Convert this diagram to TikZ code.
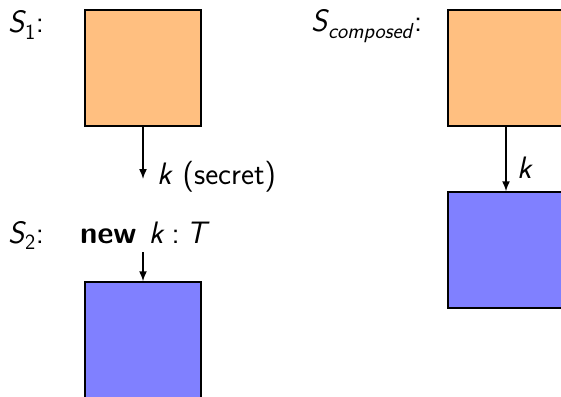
\documentclass[tikz,border=0pt]{standalone}
\usetikzlibrary{arrows.meta}
\definecolor{boxorange}{RGB}{255,191,128}
\definecolor{boxblue}{RGB}{128,128,255}
\tikzset{
  sbox/.style={draw=black, line width=1.5pt, minimum width=116pt, minimum height=116pt, inner sep=0pt},
  obox/.style={sbox, fill=boxorange},
  bbox/.style={sbox, fill=boxblue},
  lbl/.style={anchor=base west, inner sep=0pt, font=\fontsize{31}{37}\selectfont\sffamily},
  arr/.style={line width=1.5pt, -{Latex[length=10pt,width=8pt]}}
}
\begin{document}
\begin{tikzpicture}[x=1pt,y=-1pt]
\useasboundingbox (0,0) rectangle (561,396);
\clip (0,0) rectangle (561,396);
% S1
\node[lbl] (s1l) at (8,33) {\textit{S}\kern-1pt\textsubscript{1}:};
\node[obox] (s1) at (143,68) {};
\coordinate (s1k) at (143,179);
\draw[arr] (s1.south) -- (s1k);
\node[lbl] (s1t) at (157,184) {\textit{k} (secret)};
% S2
\node[lbl] (s2l) at (8,243) {\textit{S}\kern-1pt\textsubscript{2}:};
\node[lbl] (s2t) at (80,243) {\textbf{new}\hspace{0.4em}\textit{k}\hspace{0.22em}:\hspace{0.22em}\textit{T}};
\coordinate (s2k) at (143,252);
\node[bbox] (s2) at (143,340) {};
\draw[arr] (s2k) -- (s2.north);
% composed
\node[lbl] (scl) at (311,32) {\textit{S}\kern-1pt\textsubscript{\textit{composed}}:};
\node[obox] (c1) at (506,68) {};
\node[bbox] (c2) at (506,250) {};
\draw[arr] (c1.south) -- (c2.north);
\node[lbl] (ck) at (517,178) {\textit{k}};
\end{tikzpicture}
\end{document}
